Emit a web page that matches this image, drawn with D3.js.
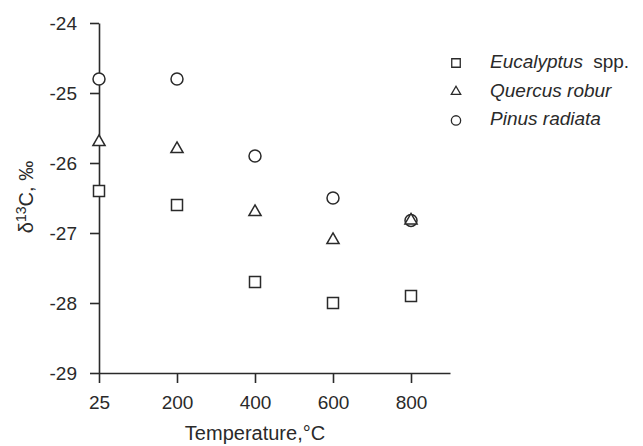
<!DOCTYPE html>
<html>
<head>
<meta charset="utf-8">
<script src="https://cdn.jsdelivr.net/npm/d3@7"></script>
<style>
  body { margin: 0; background: #fff; }
  svg { display: block; font-family: Arial, "Liberation Sans", sans-serif; }
</style>
</head>
<body>
<div id="viz"></div>
<script>
// temperatures (categories) and the three species
const temps = ['25', '200', '400', '600', '800'];
const eucalyptus = [-26.4, -26.6, -27.7, -28.0, -27.9];
const quercus = [-25.7, -25.8, -26.7, -27.1, -26.82];
const pinus = [-24.8, -24.8, -25.9, -26.5, -26.82];
const yTicks = [-24, -25, -26, -27, -28, -29];

const series = [
    {name: 'Eucalyptus', suffix: ' spp.', shape: d3.symbolSquare, values: eucalyptus},
    {name: 'Quercus robur', suffix: '', shape: d3.symbolTriangle, values: quercus},
    {name: 'Pinus radiata', suffix: '', shape: d3.symbolCircle, values: pinus}
];

const width = 643, height = 446;
const ink = '#2a2a2a';

const svg = d3.select('#viz')
    .append('svg')
    .attr('width', width)
    .attr('height', height);

// index scale so the categories sit evenly, axis runs half a step past 800
let x = d3.scaleLinear()
    .domain([0, 4.5])
    .range([99, 450]);

let y = d3.scaleLinear()
    .domain([-29, -24])
    .range([373, 23]);

let xAxis = d3.axisBottom(x)
    .tickValues(d3.range(temps.length))
    .tickFormat(i => temps[i])
    .tickSize(10)
    .tickSizeOuter(0)
    .tickPadding(13);

let yAxis = d3.axisLeft(y)
    .tickValues(yTicks)
    .tickFormat(d => String(d))
    .tickSize(9)
    .tickSizeOuter(0)
    .tickPadding(13);

const gx = svg.append('g')
    .attr('transform', 'translate(0,373)')
    .call(xAxis);

const gy = svg.append('g')
    .attr('transform', 'translate(99,0)')
    .call(yAxis);

[gx, gy].forEach(g => {
    g.selectAll('path, line')
        .attr('stroke', ink)
        .attr('stroke-width', 1.6);
    g.selectAll('text')
        .attr('fill', ink)
        .style('font-size', '19px');
});

// axis titles
svg.append('text')
    .attr('x', (x(0) + x(4)) / 2)
    .attr('y', 440)
    .attr('text-anchor', 'middle')
    .attr('fill', ink)
    .style('font-size', '20px')
    .text('Temperature,\u00B0C');

const yLab = svg.append('text')
    .attr('transform', 'translate(33,' + (y(-26.5) - 1) + ') rotate(-90)')
    .attr('text-anchor', 'middle')
    .attr('fill', ink)
    .style('font-size', '20px');
yLab.append('tspan').text('\u03B4');
yLab.append('tspan')
    .attr('dy', -7)
    .style('font-size', '14px')
    .text('13');
yLab.append('tspan')
    .attr('dy', 7)
    .text('C, \u2030');

// markers, pinus first so triangles land on top at 800
const sizes = {square: 121, triangle: 64, circle: 113};
function symSize(shape, big) {
    let s = shape === d3.symbolSquare ? sizes.square
        : shape === d3.symbolTriangle ? sizes.triangle : sizes.circle;
    return big ? s : s * 0.6;
}

series.slice().reverse().forEach(s => {
    svg.append('g')
        .selectAll('path')
        .data(s.values)
        .enter()
        .append('path')
        .attr('d', d3.symbol().type(s.shape).size(symSize(s.shape, true)))
        .attr('transform', (d, i) => 'translate(' + x(i) + ',' + y(d) + ')')
        .attr('fill', '#fff')
        .attr('stroke', ink)
        .attr('stroke-width', 1.5);
});

// legend
const legend = svg.append('g')
    .selectAll('g')
    .data(series)
    .enter()
    .append('g')
    .attr('transform', (d, i) => 'translate(456,' + (63 + i * 28.7) + ')');

legend.append('path')
    .attr('d', d => d3.symbol().type(d.shape).size(symSize(d.shape, false))())
    .attr('fill', '#fff')
    .attr('stroke', ink)
    .attr('stroke-width', 1.3);

const lt = legend.append('text')
    .attr('x', 34)
    .attr('y', 5)
    .attr('fill', ink)
    .style('font-size', '19px');
lt.append('tspan')
    .style('font-style', 'italic')
    .text(d => d.name);
lt.append('tspan')
    .attr('dx', 5)
    .text(d => d.suffix);
</script>
</body>
</html>
